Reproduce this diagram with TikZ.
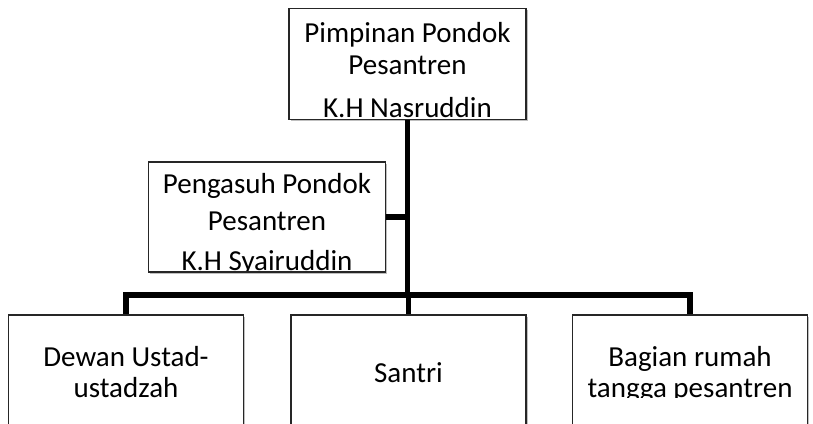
\documentclass[tikz,border=0pt]{standalone}
\usepackage{fontspec}
\setmainfont{Carlito}
\usetikzlibrary{positioning,shadows}

\tikzset{
  orgbox/.style={draw=black!85, line width=1.3pt, fill=white,
    minimum width=237pt, minimum height=111pt, inner sep=0pt,
    drop shadow={shadow xshift=1.5pt, shadow yshift=-1.5pt, fill=black, opacity=0.25}},
  orgtext/.style={align=center, inner sep=0pt, anchor=base,
    font=\fontsize{29}{32}\selectfont},
  link/.style={line width=5.5pt},
}

\begin{document}
\begin{tikzpicture}[x=1pt,y=-1pt]
    \useasboundingbox (0,0) rectangle (813,423);

    % boxes
    \node[orgbox] (pimpinan) at (407.5,64) {};
    \node[orgbox, minimum height=110pt] (pengasuh) at (267,217) {};
    \node[orgbox, minimum width=235pt] (dewan) at (126,370.5) {};
    \node[orgbox, minimum width=235pt] (santri) at (408.5,370.5) {};
    \node[orgbox, minimum width=235pt] (rumah) at (690,370.5) {};

    % connectors
    \coordinate (hub) at (pimpinan.south |- 0,295);
    \draw[link] (pimpinan.south) -- (hub);
    \draw[link] (pengasuh.east) -- (pengasuh.east -| hub);
    \draw[link] (dewan.north) |- (hub) -| (rumah.north);
    \draw[link] (hub) -- (hub -| santri.north) -- (santri.north);

    % texts (base = last line), cut at the bottom as in the chart
    \begin{scope}
        \clip (pimpinan.north west) rectangle ([yshift=2pt]pimpinan.south east)
              (pengasuh.north west) rectangle ([yshift=2pt]pengasuh.south east)
              (dewan.north west) rectangle ([yshift=-83pt]rumah.north east);
        \node[orgtext] (pimpinantext) at (407.5,117) {Pimpinan Pondok\\Pesantren\\[11pt]K.H Nasruddin};
        \node[orgtext, font=\fontsize{29}{37}\selectfont] (pengasuhtext) at (267,270) {Pengasuh Pondok\\Pesantren\\[3pt]K.H Syairuddin};
        \node[orgtext, font=\fontsize{29}{31}\selectfont] (dewantext) at (126,397) {Dewan Ustad-\\ustadzah};
        \node[orgtext] (santritext) at (408.5,382) {Santri};
        \node[orgtext, font=\fontsize{29}{31}\selectfont] (rumahtext) at (690,397) {Bagian rumah\\tangga pesantren};
    \end{scope}
\end{tikzpicture}
\end{document}
